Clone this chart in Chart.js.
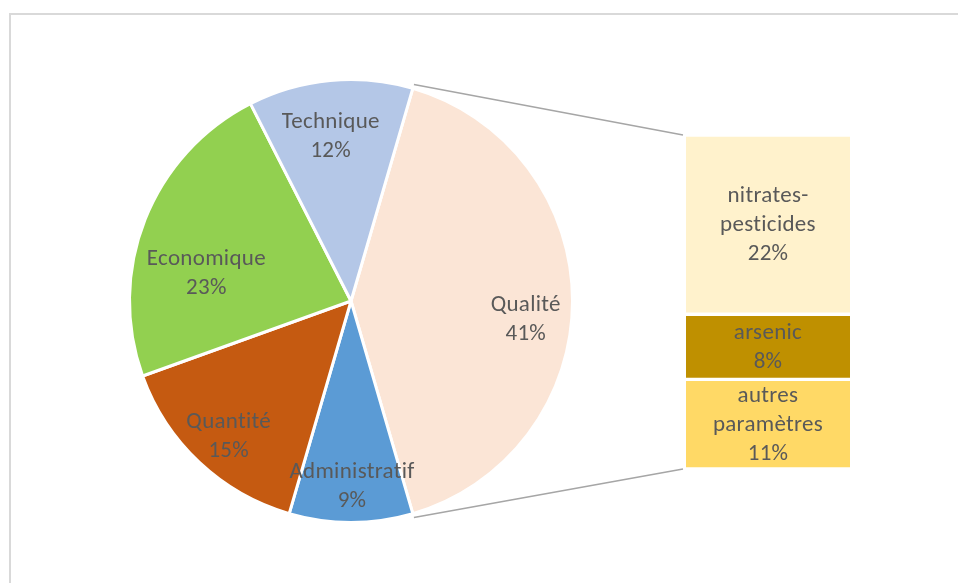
<!DOCTYPE html>
<html lang="fr">
<head>
<meta charset="utf-8">
<script src="https://cdn.jsdelivr.net/npm/chart.js@4.4.1/dist/chart.umd.min.js"></script>
<style>
  html, body { margin: 0; padding: 0; background: #fff; }
  #cadre { position: relative; width: 958px; height: 583px; overflow: hidden; }
  #bordure {
    position: absolute; left: 9px; top: 13px; width: 2000px; height: 2000px;
    border-top: 2px solid #d9d9d9; border-left: 2px solid #d9d9d9;
  }
  #pieCanvas { position: absolute; left: 0; top: 0; }
  #barCanvas { position: absolute; left: 686px; top: 135px; }
</style>
</head>
<body>
<div id="cadre">
  <div id="bordure"></div>
  <canvas id="pieCanvas" width="958" height="583"></canvas>
  <canvas id="barCanvas" width="164" height="334"></canvas>
</div>
<script>
// camembert principal (en %)
const categories = ['Qualité', 'Administratif', 'Quantité', 'Economique', 'Technique'];
const valeurs = [41, 9, 15, 23, 12];
const couleurs = ['#FBE5D6', '#5B9BD5', '#C55A11', '#92D050', '#B4C7E7'];

// détail de la part "Qualité"
const sousCategories = ['nitrates-pesticides', 'arsenic', 'autres paramètres'];
const sousValeurs = [22, 8, 11];
const sousCouleurs = ['#FFF2CC', '#BF9000', '#FFD966'];

// petits décalages des étiquettes du camembert (px)
const decalageEtiquettes = [[2, 19], [1, 13], [-4, 10], [16, 36], [-4, 8]];

const police = '23px Carlito, Lato, sans-serif';
const couleurTexte = '#595959';
const interligne = 29;

function decouperTexte(ctx, texte, largeurMax) {
    // coupe aux espaces et après les tirets
    const morceaux = texte.match(/[^\s-]+-?|\s+/g).filter(m => m.trim() !== '');
    let lignes = [];
    let courante = '';
    morceaux.forEach((m) => {
        let essai = courante === '' ? m : (courante.endsWith('-') ? courante + m : courante + ' ' + m);
        if (courante !== '' && ctx.measureText(essai).width > largeurMax) {
            lignes.push(courante);
            courante = m;
        } else {
            courante = essai;
        }
    });
    if (courante !== '') lignes.push(courante);
    return lignes;
}

function ecrireBloc(ctx, lignes, x, y) {
    ctx.save();
    ctx.font = police;
    ctx.letterSpacing = '0.3px'; // évite aussi la ligature "ti"
    ctx.fillStyle = couleurTexte;
    ctx.textAlign = 'center';
    ctx.textBaseline = 'middle';
    for (let i = 0; i < lignes.length; i++) {
        ctx.fillText(lignes[i], x, y + (i - (lignes.length - 1) / 2) * interligne);
    }
    ctx.restore();
}

// barre empilée à droite
const etiquettesBarre = {
    id: 'etiquettesBarre',
    afterDatasetsDraw(chart) {
        const ctx = chart.ctx;
        ctx.save();
        ctx.font = police;
        ctx.letterSpacing = '0.3px';
        chart.data.datasets.forEach((ds, i) => {
            const el = chart.getDatasetMeta(i).data[0];
            const lignes = decouperTexte(ctx, ds.label, el.width - 8);
            lignes.push(ds.data[0] + '%');
            ecrireBloc(ctx, lignes, el.x, (el.y + el.base) / 2 + 1);
        });
        ctx.restore();
    }
};

let barChart = new Chart(document.getElementById('barCanvas'), {
    type: 'bar',
    data: {
        labels: ['Qualité'],
        datasets: sousCategories.map((nom, i) => ({
            label: nom,
            data: [sousValeurs[i]],
            backgroundColor: sousCouleurs[i],
            borderColor: '#ffffff',
            borderWidth: { top: 2, bottom: 2, left: 0, right: 0 },
            borderSkipped: false,
            barPercentage: 1,
            categoryPercentage: 1
        }))
    },
    options: {
        responsive: false,
        animation: false,
        events: [],
        layout: { padding: 0 },
        plugins: { legend: { display: false }, tooltip: { enabled: false } },
        scales: {
            x: { display: false, stacked: true },
            y: {
                display: false, stacked: true, reverse: true,
                min: 0, max: sousValeurs.reduce((a, b) => a + b, 0)
            }
        }
    },
    plugins: [etiquettesBarre]
});

// étiquettes du camembert + traits de liaison vers la barre
const etiquettesCamembert = {
    id: 'etiquettesCamembert',
    afterDatasetsDraw(chart) {
        const ctx = chart.ctx;
        const arcs = chart.getDatasetMeta(0).data;
        arcs.forEach((arc, i) => {
            const milieu = (arc.startAngle + arc.endAngle) / 2;
            const r = arc.outerRadius * 0.78;
            const x = arc.x + Math.cos(milieu) * r + decalageEtiquettes[i][0];
            const y = arc.y + Math.sin(milieu) * r + decalageEtiquettes[i][1];
            ecrireBloc(ctx, [categories[i], valeurs[i] + '%'], x, y);
        });

        // traits entre la part Qualité et la barre de détail
        const q = arcs[0];
        const barreCanvas = barChart.canvas;
        const dx = barreCanvas.offsetLeft;
        const dy = barreCanvas.offsetTop;
        const haut = barChart.getDatasetMeta(0).data[0];
        const bas = barChart.getDatasetMeta(sousValeurs.length - 1).data[0];
        const gauche = dx + haut.x - haut.width / 2 - 3;

        ctx.save();
        ctx.strokeStyle = '#a6a6a6';
        ctx.lineWidth = 1.5;
        ctx.beginPath();
        ctx.moveTo(q.x + Math.cos(q.startAngle) * (q.outerRadius + 4), q.y + Math.sin(q.startAngle) * (q.outerRadius + 4));
        ctx.lineTo(gauche, dy + Math.min(haut.y, haut.base));
        ctx.moveTo(q.x + Math.cos(q.endAngle) * (q.outerRadius + 4), q.y + Math.sin(q.endAngle) * (q.outerRadius + 4));
        ctx.lineTo(gauche, dy + Math.max(bas.y, bas.base));
        ctx.stroke();
        ctx.restore();
    }
};

let pieChart = new Chart(document.getElementById('pieCanvas'), {
    type: 'pie',
    data: {
        labels: categories,
        datasets: [{
            data: valeurs,
            backgroundColor: couleurs,
            borderColor: '#ffffff',
            borderWidth: 3
        }]
    },
    options: {
        responsive: false,
        animation: false,
        events: [],
        rotation: valeurs[0] / 100 * -180 + 90,
        layout: { padding: { left: 128, top: 78, right: 384, bottom: 59 } },
        plugins: { legend: { display: false }, tooltip: { enabled: false } }
    },
    plugins: [etiquettesCamembert]
});
</script>
</body>
</html>
